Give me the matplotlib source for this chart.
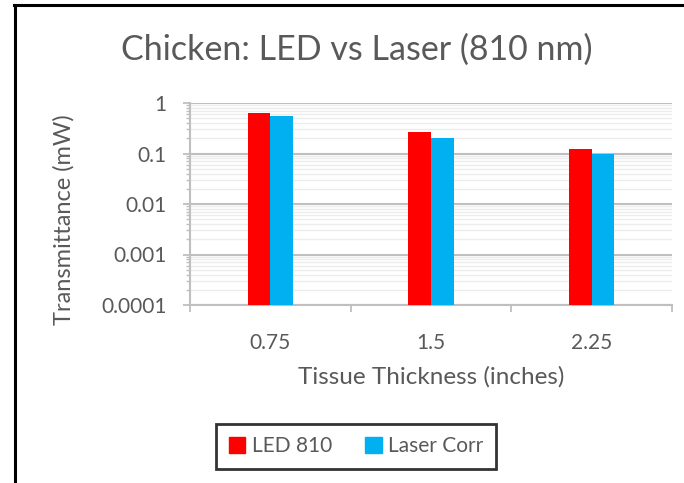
import numpy as np
import matplotlib as mpl
mpl.use('Agg')
import matplotlib.pyplot as plt
from matplotlib.ticker import LogLocator, FixedLocator, NullFormatter
from matplotlib.lines import Line2D
from matplotlib.patches import Patch

mpl.rcParams['font.family'] = ['Lato', 'DejaVu Sans']

# data
thickness = ['0.75', '1.5', '2.25']
led_810 = [0.625, 0.263, 0.123]
laser_corr = [0.56, 0.20, 0.096]
y_ticks = [0.0001, 0.001, 0.01, 0.1, 1]
y_ticklabels = ['0.0001', '0.001', '0.01', '0.1', '1']

txt = '#595959'
grid_major = '#bfbfbf'
grid_minor = '#ececec'
red = '#ff0000'
blue = '#00b0f0'

W, H = 684, 483
fig = plt.figure(figsize=(W / 100, H / 100), dpi=100)
ax = fig.add_axes([190 / W, 1 - 305 / H, (672 - 190) / W, (305 - 103) / H])

x = np.arange(len(thickness))
bw = 0.141
ax.bar(x - bw / 2, led_810, bw, color=red, label='LED 810', zorder=3)
ax.bar(x + bw / 2, laser_corr, bw, color=blue, label='Laser Corr', zorder=3)

ax.set_yscale('log')
ax.set_ylim(1e-4, 1)
ax.set_xlim(-0.5, len(thickness) - 0.5)

ax.yaxis.set_major_locator(FixedLocator(y_ticks))
ax.set_yticklabels(y_ticklabels)
ax.yaxis.set_minor_locator(LogLocator(base=10, subs=np.arange(2, 10)))
ax.yaxis.set_minor_formatter(NullFormatter())

ax.grid(which='major', axis='y', color=grid_major, lw=1.5, zorder=1)
ax.grid(which='minor', axis='y', color=grid_minor, lw=1.0, zorder=0)

# category ticks sit on the boundaries, labels at the centres
ax.set_xticks(np.arange(len(thickness) + 1) - 0.5)
ax.set_xticklabels([])
ax.set_xticks(x, minor=True)
ax.set_xticklabels(thickness, minor=True)
ax.tick_params(axis='x', which='major', length=5, width=1.3, color=grid_major, direction='out')
ax.tick_params(axis='x', which='minor', length=0, pad=20, labelsize=15, labelcolor=txt)
ax.tick_params(axis='y', which='major', length=5, width=1.3, color=grid_major, pad=12,
               labelsize=15, labelcolor=txt)
ax.tick_params(axis='y', which='minor', length=3, width=1, color=grid_major)

for s in ['top', 'right']:
    ax.spines[s].set_visible(False)
for s in ['left', 'bottom']:
    ax.spines[s].set_color(grid_major)
    ax.spines[s].set_linewidth(1.5)

fig.text(357 / W, 1 - 50 / H, 'Chicken: LED vs Laser (810 nm)', ha='center', va='center',
         fontsize=24.5, color=txt)
fig.text(64 / W, 1 - 220 / H, 'Transmittance (mW)', rotation=90, ha='center', va='center',
         fontsize=17, color=txt)
fig.text(431 / W, 1 - 377 / H, 'Tissue Thickness (inches)', ha='center', va='center',
         fontsize=17.5, color=txt)

handles = [Patch(color=red, label='LED 810'), Patch(color=blue, label='Laser Corr')]
leg = fig.legend(handles=handles, loc='center', bbox_to_anchor=(356 / W, 1 - 446.5 / H),
                 ncol=2, frameon=True, fancybox=False, fontsize=15, labelcolor=txt,
                 handlelength=0.8, handleheight=0.8, handletextpad=0.3, columnspacing=1.6,
                 borderpad=0.6)
leg.get_frame().set_edgecolor('black')
leg.get_frame().set_linewidth(2)

# outer chart frame, cut off at right and bottom
fig.add_artist(Line2D([14 / W, 1], [1 - 5 / H, 1 - 5 / H], color='black', lw=2.2))
fig.add_artist(Line2D([15 / W, 15 / W], [0, 1 - 5 / H], color='black', lw=2.2))

fig.savefig('out.png', dpi=100)
